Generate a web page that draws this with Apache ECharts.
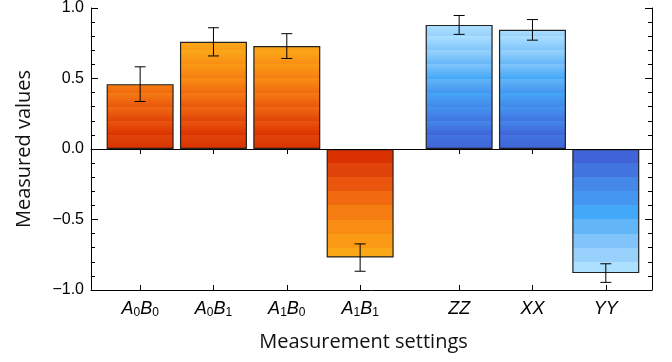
<!DOCTYPE html>
<html>
<head>
<meta charset="utf-8">
<script src="https://cdn.jsdelivr.net/npm/echarts@6/dist/echarts.min.js"></script>
<style>
  html, body { margin: 0; padding: 0; background: #fff; }
  #chart { width: 672px; height: 362px; }
</style>
</head>
<body>
<div id="chart"></div>
<script>
// measurement settings, two groups (CHSH pairs, then Pauli correlators)
const settings = ["A0B0", "A0B1", "A1B0", "A1B1", "ZZ", "XX", "YY"];
const settingGroup = [0, 0, 0, 0, 1, 1, 1];
const measured = [0.46, 0.76, 0.73, -0.77, 0.88, 0.845, -0.88];
const errors = [0.123, 0.1, 0.088, 0.097, 0.067, 0.073, 0.066];
const yTicks = [-1, -0.5, 0, 0.5, 1];

const groupGap = 0.35;
const bandStep = 0.1;
const orangeBands = ["#d93200", "#e0440a", "#ea560d", "#f16a10", "#f57d12", "#f98d14", "#fa9a15", "#fba817", "#fdb51a", "#fdc01c"];
const blueBands = ["#4064d8", "#4274e0", "#4488e8", "#4496f0", "#44a8f8", "#62b6f8", "#80c4fb", "#98d2fc", "#abe0ff", "#bce8ff"];

const slots = settings.map((s, i) => i + 1 + settingGroup[i] * groupGap);

// stepped colour bands, counted outward from zero
function bandFill(v, bands) {
  const h = Math.abs(v);
  const n = Math.ceil(h / bandStep - 1e-9);
  const stops = [];
  for (let k = 0; k < n; k++) {
    const d0 = k * bandStep;
    const d1 = Math.min((k + 1) * bandStep, h);
    let o0, o1;
    if (v > 0) { o0 = 1 - d1 / h; o1 = 1 - d0 / h; }
    else { o0 = d0 / h; o1 = d1 / h; }
    stops.push({ offset: o0, color: bands[k] });
    stops.push({ offset: o1, color: bands[k] });
  }
  stops.sort((a, b) => a.offset - b.offset);
  return new echarts.graphic.LinearGradient(0, 0, 0, 1, stops);
}

function richLabel(name) {
  return name.split("").map((c) => (/[0-9]/.test(c) ? "{s|" + c + "}" : "{i|" + c + "}")).join("");
}

function nameAt(value) {
  let best = 0;
  slots.forEach((s, i) => { if (Math.abs(s - value) < Math.abs(slots[best] - value)) best = i; });
  return settings[best];
}

const chart = echarts.init(document.getElementById("chart"));

const barData = measured.map((v, i) => ({
  value: [slots[i], v],
  itemStyle: { color: bandFill(v, settingGroup[i] === 0 ? orangeBands : blueBands) },
}));

const errData = measured.map((v, i) => [slots[i], v, v - errors[i], v + errors[i]]);

const tickFont = "'Liberation Sans', Arial, sans-serif";
const titleFont = "'Open Sans', 'Noto Sans', sans-serif";

const option = {
  animation: false,
  grid: { left: 91, right: 20, top: 8, bottom: 72 },
  xAxis: [
    {
      type: "value",
      min: 0.33,
      max: 7.98,
      position: "bottom",
      name: "Measurement settings",
      nameLocation: "middle",
      nameGap: 42,
      nameTextStyle: { fontFamily: titleFont, fontSize: 20, color: "#111", padding: [0, 16, 0, 0] },
      axisLine: { show: true, onZero: false, lineStyle: { color: "#000", width: 1 } },
      axisTick: { show: true, inside: true, length: 5, customValues: slots, lineStyle: { color: "#000" } },
      axisLabel: {
        show: true,
        customValues: slots,
        margin: 9,
        formatter: (val) => richLabel(nameAt(val)),
        rich: {
          i: { fontFamily: tickFont, fontStyle: "italic", fontSize: 18, color: "#000", lineHeight: 20, verticalAlign: "middle" },
          s: { fontFamily: tickFont, fontSize: 12, color: "#000", lineHeight: 4, verticalAlign: "bottom" },
        },
      },
      splitLine: { show: false },
    },
    {
      type: "value",
      min: 0.33,
      max: 7.98,
      position: "top",
      axisLine: { show: true, lineStyle: { color: "#000", width: 1 } },
      axisTick: { show: true, inside: true, length: 5, customValues: slots, lineStyle: { color: "#000" } },
      axisLabel: { show: false },
      splitLine: { show: false },
    },
  ],
  yAxis: [
    {
      type: "value",
      min: yTicks[0],
      max: yTicks[yTicks.length - 1],
      interval: yTicks[1] - yTicks[0],
      position: "left",
      name: "Measured values",
      nameLocation: "middle",
      nameGap: 57,
      nameTextStyle: { fontFamily: titleFont, fontSize: 20, color: "#111" },
      axisLine: { show: true, lineStyle: { color: "#000", width: 1 } },
      axisTick: { show: true, inside: true, length: 7, lineStyle: { color: "#000" } },
      minorTick: { show: true, splitNumber: 5, length: 4, lineStyle: { color: "#000" } },
      axisLabel: {
        margin: 7,
        fontFamily: tickFont,
        fontSize: 16,
        color: "#000",
        formatter: (v) => v.toFixed(1).replace("-", "\u2212"),
      },
      splitLine: { show: false },
    },
    {
      type: "value",
      min: yTicks[0],
      max: yTicks[yTicks.length - 1],
      interval: yTicks[1] - yTicks[0],
      position: "right",
      axisLine: { show: true, lineStyle: { color: "#000", width: 1 } },
      axisTick: { show: true, inside: true, length: 7, lineStyle: { color: "#000" } },
      minorTick: { show: true, splitNumber: 5, length: 4, lineStyle: { color: "#000" } },
      axisLabel: { show: false },
      splitLine: { show: false },
    },
  ],
  series: [
    {
      type: "bar",
      xAxisIndex: 0,
      yAxisIndex: 0,
      barWidth: 67,
      data: barData,
      itemStyle: { borderColor: "#222", borderWidth: 1.2 },
      markLine: {
        silent: true,
        symbol: "none",
        label: { show: false },
        lineStyle: { color: "#000", width: 1.2, type: "solid" },
        data: [{ yAxis: 0 }],
      },
    },
    {
      type: "custom",
      xAxisIndex: 0,
      yAxisIndex: 0,
      z: 5,
      encode: { x: 0, y: [2, 3] },
      data: errData,
      renderItem: (params, api) => {
        const lo = api.coord([api.value(0), api.value(2)]);
        const hi = api.coord([api.value(0), api.value(3)]);
        const cap = 5.5;
        const style = { stroke: "#000", lineWidth: 1 };
        return {
          type: "group",
          children: [
            { type: "line", shape: { x1: lo[0], y1: lo[1], x2: hi[0], y2: hi[1] }, style },
            { type: "line", shape: { x1: lo[0] - cap, y1: lo[1], x2: lo[0] + cap, y2: lo[1] }, style },
            { type: "line", shape: { x1: hi[0] - cap, y1: hi[1], x2: hi[0] + cap, y2: hi[1] }, style },
          ],
        };
      },
    },
  ],
};

chart.setOption(option);
</script>
</body>
</html>
